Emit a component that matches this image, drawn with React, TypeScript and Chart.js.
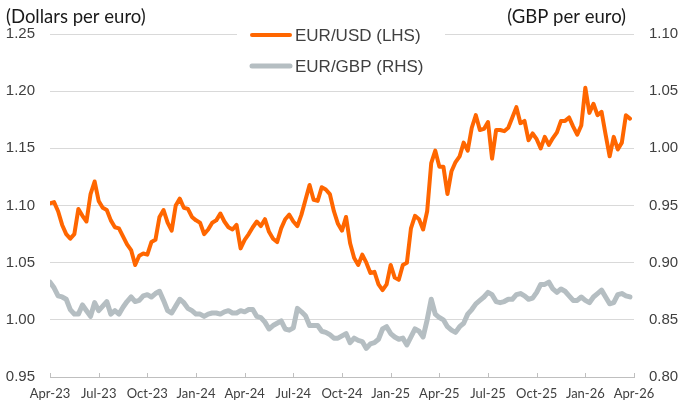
import { useEffect, useRef } from "react";
import { Chart, registerables } from "chart.js";

Chart.register(...registerables);

// Quarter tick labels (x axis runs in months from Apr-23)
const quarterLabels = [
  "Apr-23", "Jul-23", "Oct-23", "Jan-24", "Apr-24", "Jul-24", "Oct-24",
  "Jan-25", "Apr-25", "Jul-25", "Oct-25", "Jan-26", "Apr-26",
];

// Samples every quarter of a month, starting Apr-23
const sampleStepMonths = 0.25;

// EUR/USD, dollars per euro (LHS)
const eurUsd = [
  1.102, 1.103, 1.095, 1.083, 1.075, 1.071, 1.075, 1.097, 1.091, 1.086,
  1.110, 1.121, 1.104, 1.098, 1.096, 1.087, 1.081, 1.080, 1.073, 1.066,
  1.061, 1.048, 1.056, 1.058, 1.057, 1.068, 1.070, 1.090, 1.096, 1.085,
  1.078, 1.100, 1.106, 1.098, 1.097, 1.090, 1.087, 1.085, 1.075, 1.079,
  1.085, 1.087, 1.093, 1.086, 1.081, 1.079, 1.083, 1.0625, 1.070, 1.075,
  1.081, 1.086, 1.082, 1.088, 1.077, 1.071, 1.068, 1.080, 1.088, 1.092,
  1.086, 1.082, 1.092, 1.105, 1.118, 1.105, 1.104, 1.116, 1.114, 1.110,
  1.095, 1.084, 1.078, 1.090, 1.067, 1.054, 1.048, 1.057, 1.050, 1.041,
  1.042, 1.031, 1.026, 1.031, 1.048, 1.037, 1.035, 1.048, 1.050, 1.080,
  1.091, 1.088, 1.079, 1.095, 1.137, 1.148, 1.134, 1.134, 1.110, 1.130,
  1.138, 1.143, 1.155, 1.148, 1.168, 1.179, 1.166, 1.167, 1.173, 1.141,
  1.166, 1.166, 1.165, 1.168, 1.177, 1.186, 1.172, 1.174, 1.157, 1.163,
  1.158, 1.150, 1.160, 1.153, 1.159, 1.164, 1.174, 1.174, 1.177, 1.169,
  1.162, 1.170, 1.203, 1.181, 1.189, 1.179, 1.182, 1.162, 1.143, 1.160,
  1.149, 1.155, 1.179, 1.176,
];

// EUR/GBP, GBP per euro (RHS)
const eurGbp = [
  0.883, 0.878, 0.871, 0.870, 0.868, 0.859, 0.855, 0.855, 0.863, 0.858,
  0.853, 0.865, 0.858, 0.862, 0.866, 0.855, 0.858, 0.855, 0.861, 0.866,
  0.870, 0.866, 0.867, 0.871, 0.872, 0.870, 0.873, 0.875, 0.867, 0.858,
  0.856, 0.862, 0.868, 0.865, 0.860, 0.858, 0.855, 0.855, 0.853, 0.855,
  0.856, 0.856, 0.855, 0.857, 0.858, 0.856, 0.856, 0.858, 0.857, 0.859,
  0.859, 0.853, 0.852, 0.848, 0.842, 0.845, 0.847, 0.849, 0.842, 0.841,
  0.843, 0.860, 0.857, 0.8535, 0.845, 0.845, 0.845, 0.840, 0.839, 0.837,
  0.834, 0.834, 0.836, 0.838, 0.830, 0.834, 0.832, 0.831, 0.825, 0.829,
  0.830, 0.833, 0.842, 0.844, 0.838, 0.835, 0.833, 0.834, 0.828, 0.835,
  0.842, 0.840, 0.835, 0.850, 0.868, 0.855, 0.852, 0.850, 0.844, 0.841,
  0.839, 0.844, 0.847, 0.855, 0.859, 0.864, 0.867, 0.870, 0.874, 0.872,
  0.866, 0.865, 0.866, 0.868, 0.868, 0.872, 0.873, 0.871, 0.868, 0.869,
  0.874, 0.881, 0.881, 0.883, 0.877, 0.874, 0.877, 0.875, 0.871, 0.867,
  0.867, 0.870, 0.867, 0.865, 0.870, 0.873, 0.876, 0.870, 0.864, 0.865,
  0.872, 0.873, 0.871, 0.870,
];

const seriesNames = ["EUR/USD (LHS)", "EUR/GBP (RHS)"];
const leftTitle = "(Dollars per euro)";
const rightTitle = "(GBP per euro)";

const ORANGE = "#FF6600";
const GREY = "#B5BEC2";

const decorPlugin = {
  id: "decor",
  afterDraw(chart: any) {
    const ctx = chart.ctx as CanvasRenderingContext2D;
    const area = chart.chartArea;
    const xs = chart.scales.x;
    ctx.save();
    // inward tick marks on the x axis
    ctx.strokeStyle = "#BFBFBF";
    ctx.lineWidth = 1;
    xs.ticks.forEach((t: any) => {
      const px = Math.round(xs.getPixelForValue(t.value)) + 0.5;
      ctx.beginPath();
      ctx.moveTo(px, area.bottom);
      ctx.lineTo(px, area.bottom - 4);
      ctx.stroke();
    });
    // axis titles
    ctx.fillStyle = "#1a1a1a";
    ctx.font = "18.5px Lato";
    ctx.textBaseline = "alphabetic";
    ctx.textAlign = "left";
    ctx.fillText(leftTitle, 6, 23);
    ctx.textAlign = "right";
    ctx.fillText(rightTitle, 626, 23);
    // legend
    ctx.fillStyle = "#ffffff";
    ctx.fillRect(237, 22, 208, 58);
    const items = [
      { name: seriesNames[0], color: ORANGE, width: 4, y: 35 },
      { name: seriesNames[1], color: GREY, width: 5, y: 66 },
    ];
    ctx.font = "17px 'Liberation Sans', Arial, sans-serif";
    ctx.textAlign = "left";
    ctx.textBaseline = "middle";
    items.forEach((it) => {
      ctx.strokeStyle = it.color;
      ctx.lineWidth = it.width;
      ctx.lineCap = "round";
      ctx.beginPath();
      ctx.moveTo(252, it.y);
      ctx.lineTo(290, it.y);
      ctx.stroke();
      ctx.fillStyle = "#404040";
      ctx.fillText(it.name, 295, it.y + 1);
    });
    ctx.restore();
  },
};

export default function App() {
  const ref = useRef<HTMLCanvasElement>(null);

  useEffect(() => {
    const usdPoints = eurUsd.map((v, i) => ({ x: i * sampleStepMonths, y: v }));
    const gbpPoints = eurGbp.map((v, i) => ({ x: i * sampleStepMonths, y: v }));
    const chart = new Chart(ref.current as HTMLCanvasElement, {
      type: "line",
      data: {
        datasets: [
          {
            label: seriesNames[0],
            data: usdPoints,
            yAxisID: "y",
            borderColor: ORANGE,
            borderWidth: 4,
            pointRadius: 0,
            tension: 0,
            borderJoinStyle: "round",
            borderCapStyle: "round",
          },
          {
            label: seriesNames[1],
            data: gbpPoints,
            yAxisID: "y1",
            borderColor: GREY,
            borderWidth: 5,
            pointRadius: 0,
            tension: 0,
            borderJoinStyle: "round",
            borderCapStyle: "round",
          },
        ],
      },
      options: {
        animation: false,
        responsive: true,
        maintainAspectRatio: false,
        layout: { padding: { top: 34, left: 0, right: 0, bottom: 0 } },
        plugins: { legend: { display: false }, tooltip: { enabled: false } },
        scales: {
          x: {
            type: "linear",
            min: 0,
            max: (quarterLabels.length - 1) * 3,
            grid: { display: false, drawTicks: false },
            border: { display: true, color: "#BFBFBF" },
            ticks: {
              stepSize: 3,
              autoSkip: false,
              maxRotation: 0,
              padding: 9,
              color: "#404040",
              font: { family: "Lato", size: 13 },
              callback: (v: any) => quarterLabels[Math.round(Number(v) / 3)] ?? "",
            },
            afterFit: (s: any) => { s.height = 28; },
          },
          y: {
            position: "left",
            min: 0.95,
            max: 1.25,
            grid: { color: "#D9D9D9", drawTicks: false },
            border: { display: false },
            ticks: {
              stepSize: 0.05,
              padding: 15,
              color: "#404040",
              font: { family: "'Liberation Sans', Arial, sans-serif", size: 15 },
              callback: (v: any) => Number(v).toFixed(2),
            },
            afterFit: (s: any) => { s.width = 50; },
          },
          y1: {
            position: "right",
            min: 0.8,
            max: 1.1,
            grid: { drawOnChartArea: false, drawTicks: false },
            border: { display: false },
            ticks: {
              stepSize: 0.05,
              padding: 15,
              color: "#404040",
              font: { family: "'Liberation Sans', Arial, sans-serif", size: 15 },
              callback: (v: any) => Number(v).toFixed(2),
            },
            afterFit: (s: any) => { s.width = 50; },
          },
        },
      },
      plugins: [decorPlugin],
    });
    return () => chart.destroy();
  }, []);

  return (
    <div style={{ position: "absolute", left: 0, top: 0, width: 684, height: 405 }}>
      <canvas ref={ref} />
    </div>
  );
}
